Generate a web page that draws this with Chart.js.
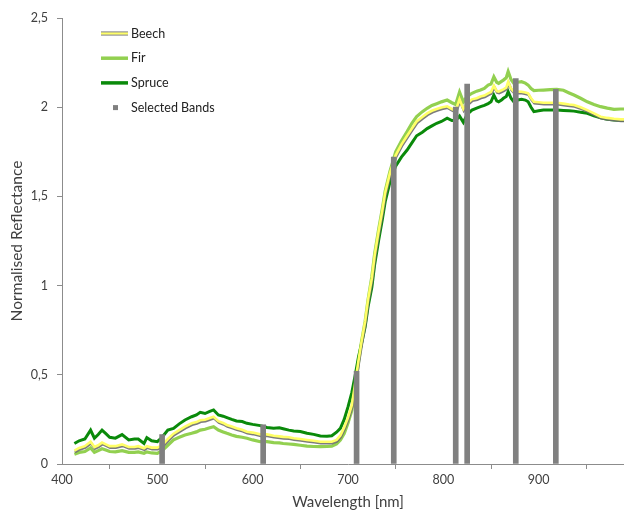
<!DOCTYPE html>
<html><head><meta charset="utf-8">
<script src="https://cdn.jsdelivr.net/npm/chart.js@4.4.0/dist/chart.umd.min.js"></script>
<style>
html,body{margin:0;padding:0;background:#fff;overflow:hidden;width:624px;height:511px;}
#wrap{position:absolute;left:0;top:0;width:660px;height:511px;}
</style></head>
<body>
<div id="wrap"><canvas id="c" width="660" height="511"></canvas></div>
<script>
const wavelengths = [413,418,424,430,434,438,442,446,450,456,463,470,476,480,486,489,494,500,505,511,517,523,529,536,541,545,550,555,559,564,569,573,578,583,589,594,600,608,615,622,628,632,638,643,650,657,664,671,678,683,688,692,696,700,704,708,711,714,718,721,725,728,732,736,739,744,750,756,762,767,772,778,783,788,793,798,804,809,813,817,821,825,830,835,839,843,847,850,853,856,858,861,863,866,868,871,874,878,882,886,889,892,895,900,905,912,919,926,932,937,944,951,958,965,972,979,986,1000];

const beech = [0.075,0.09,0.1,0.125,0.095,0.105,0.12,0.11,0.1,0.1,0.11,0.095,0.095,0.1,0.088,0.1,0.092,0.092,0.105,0.14,0.17,0.19,0.21,0.228,0.235,0.245,0.248,0.258,0.265,0.24,0.23,0.219,0.21,0.2,0.192,0.181,0.176,0.166,0.166,0.158,0.155,0.152,0.15,0.144,0.14,0.135,0.13,0.125,0.125,0.125,0.135,0.16,0.205,0.26,0.33,0.47,0.58,0.68,0.8,0.92,1.04,1.17,1.3,1.42,1.52,1.63,1.73,1.79,1.84,1.88,1.92,1.945,1.965,1.98,1.99,1.998,2.005,1.99,1.98,2.045,1.99,2.02,2.044,2.05,2.06,2.065,2.078,2.085,2.12,2.09,2.087,2.095,2.1,2.11,2.143,2.105,2.087,2.088,2.087,2.083,2.078,2.05,2.03,2.028,2.025,2.025,2.025,2.02,2.015,2.012,2.0,1.984,1.965,1.947,1.94,1.935,1.932,1.932];

const fir = [0.055,0.065,0.07,0.09,0.065,0.075,0.085,0.078,0.07,0.068,0.075,0.065,0.065,0.068,0.06,0.068,0.062,0.06,0.075,0.105,0.135,0.15,0.163,0.172,0.18,0.19,0.195,0.203,0.209,0.19,0.18,0.172,0.163,0.155,0.15,0.144,0.135,0.125,0.125,0.12,0.118,0.115,0.112,0.11,0.105,0.1,0.098,0.097,0.098,0.1,0.112,0.135,0.17,0.23,0.3,0.45,0.57,0.68,0.8,0.92,1.05,1.18,1.31,1.43,1.53,1.64,1.75,1.81,1.863,1.91,1.947,1.975,1.994,2.01,2.02,2.03,2.04,2.025,2.015,2.085,2.03,2.06,2.078,2.09,2.096,2.105,2.124,2.13,2.17,2.14,2.134,2.145,2.152,2.165,2.2,2.155,2.134,2.14,2.143,2.135,2.124,2.105,2.093,2.095,2.096,2.098,2.1,2.095,2.08,2.068,2.05,2.03,2.015,2.003,1.995,1.988,1.99,1.99];

const spruce = [0.115,0.13,0.14,0.19,0.145,0.165,0.19,0.17,0.15,0.145,0.165,0.135,0.14,0.14,0.115,0.148,0.13,0.125,0.15,0.19,0.2,0.225,0.247,0.265,0.275,0.29,0.283,0.295,0.303,0.275,0.268,0.26,0.25,0.241,0.238,0.228,0.222,0.215,0.205,0.2,0.203,0.198,0.19,0.185,0.182,0.172,0.166,0.157,0.156,0.158,0.178,0.2,0.25,0.32,0.4,0.51,0.6,0.67,0.77,0.88,0.99,1.12,1.25,1.37,1.47,1.58,1.67,1.72,1.76,1.8,1.84,1.86,1.88,1.895,1.91,1.92,1.938,1.925,1.925,1.95,1.915,1.96,1.984,1.995,2.003,2.01,2.02,2.03,2.068,2.035,2.03,2.04,2.05,2.06,2.087,2.05,2.03,2.04,2.044,2.04,2.03,2.0,1.975,1.98,1.984,1.984,1.984,1.982,1.98,1.978,1.972,1.966,1.952,1.94,1.932,1.928,1.926,1.926];

const bandWavelengths = [505,611,709,748,813,825,876,918];
const bandValues = [0.165,0.22,0.52,1.72,2.0,2.13,2.16,2.1];

const yTickLabels = {0:'0',0.5:'0,5',1:'1',1.5:'1,5',2:'2',2.5:'2,5'};
const xTickLabels = {400:'400',500:'500',600:'600',700:'700',800:'800',900:'900'};

const pts = arr => wavelengths.map((w,i)=>({x:w,y:arr[i]}));
const FONT = 'Lato, "Open Sans", sans-serif';

const legendItems = [
  {label:'Beech', kind:'beech'},
  {label:'Fir', kind:'line', color:'#92D050'},
  {label:'Spruce', kind:'line', color:'#0A8A0A'},
  {label:'Selected Bands', kind:'square', color:'#808080'}
];

const legendPlugin = {
  id:'customLegend',
  afterDraw(chart){
    const ctx = chart.ctx;
    ctx.save();
    ctx.font = '12.5px ' + FONT;
    ctx.fillStyle = '#222';
    ctx.textBaseline = 'middle';
    const x0 = 101, x1 = 128, tx = 131;
    legendItems.forEach((it,i)=>{
      const y = 33.5 + i*24.7;
      if(it.kind==='beech'){
        ctx.strokeStyle='#9a9a9a'; ctx.lineWidth=4.5;
        ctx.beginPath(); ctx.moveTo(x0,y); ctx.lineTo(x1,y); ctx.stroke();
        ctx.strokeStyle='#FFFF66'; ctx.lineWidth=2;
        ctx.beginPath(); ctx.moveTo(x0,y); ctx.lineTo(x1,y); ctx.stroke();
      } else if(it.kind==='line'){
        ctx.strokeStyle=it.color; ctx.lineWidth=3.5;
        ctx.beginPath(); ctx.moveTo(x0,y); ctx.lineTo(x1,y); ctx.stroke();
      } else {
        ctx.fillStyle=it.color; ctx.fillRect(113,y-2.5,5,5);
        ctx.fillStyle='#222';
      }
      ctx.fillText(it.label, tx, y);
    });
    ctx.restore();
  }
};

const shadowPlugin = {
  id:'beechShadow',
  beforeDatasetDraw(chart,args){
    const ds = chart.data.datasets[args.index];
    if(ds.shadow){
      chart.ctx.save();
      chart.ctx.shadowColor='rgba(110,110,110,0.9)';
      chart.ctx.shadowOffsetY=1.5;
      chart.ctx.shadowOffsetX=0.5;
      chart.ctx.shadowBlur=0;
    }
  },
  afterDatasetDraw(chart,args){
    const ds = chart.data.datasets[args.index];
    if(ds.shadow) chart.ctx.restore();
  }
};

new Chart(document.getElementById('c'), {
  type:'line',
  data:{
    datasets:[
      {type:'bar', label:'Selected Bands', data:bandWavelengths.map((w,i)=>({x:w,y:bandValues[i]})), backgroundColor:'#808080', barThickness:5, order:0},
      {label:'Beech', data:pts(beech), borderColor:'#FFFF66', borderWidth:2.6, pointRadius:0, tension:0, order:1, shadow:true},
      {label:'Spruce', data:pts(spruce), borderColor:'#0A8A0A', borderWidth:3, pointRadius:0, tension:0, order:2},
      {label:'Fir', data:pts(fir), borderColor:'#92D050', borderWidth:3.2, pointRadius:0, tension:0, order:3}
    ]
  },
  options:{
    responsive:false,
    animation:false,
    events:[],
    layout:{padding:{left:0,right:26,top:18,bottom:0}},
    plugins:{legend:{display:false}, tooltip:{enabled:false}},
    scales:{
      x:{
        type:'linear', min:400, max:1000, offset:false,
        afterFit(s){ s.height = 47; },
        border:{color:'#8c8c8c', width:1},
        grid:{display:true, drawOnChartArea:false, drawTicks:true, tickLength:5, color:'#8c8c8c'},
        ticks:{stepSize:100, font:{family:FONT,size:12.5}, color:'#404040', padding:3, maxRotation:0,
          callback:v=> xTickLabels[v] !== undefined ? xTickLabels[v] : ''},
        title:{display:true, text:'Wavelength [nm]', font:{family:FONT,size:15}, color:'#404040', padding:{top:0,bottom:0}}
      },
      y:{
        type:'linear', min:0, max:2.5,
        afterFit(s){ s.width = 62; },
        border:{color:'#8c8c8c', width:1},
        grid:{display:true, drawOnChartArea:false, drawTicks:true, tickLength:5, color:'#8c8c8c'},
        ticks:{stepSize:0.5, font:{family:FONT,size:12.5}, color:'#404040', padding:9,
          callback:v=> yTickLabels[v] !== undefined ? yTickLabels[v] : ''},
        title:{display:true, text:'Normalised Reflectance', font:{family:FONT,size:15.5}, color:'#404040', padding:{top:8,bottom:0}}
      }
    }
  },
  plugins:[legendPlugin, shadowPlugin]
});
</script>
</body></html>
